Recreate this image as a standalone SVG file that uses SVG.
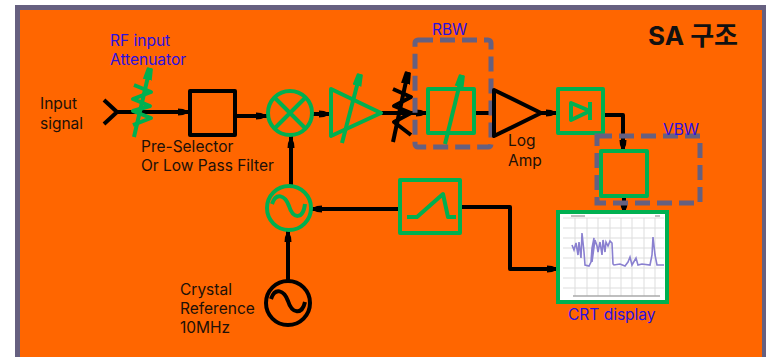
<svg xmlns="http://www.w3.org/2000/svg" width="766" height="357" viewBox="0 0 766 357">
<style>
text{font-family:Inter,"Noto Sans CJK KR","Liberation Sans",sans-serif;font-size:15.5px;fill:#201008}
.b{fill:#2a10e0}
.k{fill:none;stroke:#000;stroke-width:4;stroke-linejoin:round}
.g{fill:none;stroke:#00b050;stroke-width:4;stroke-linejoin:round}
.d{fill:none;stroke:#666080;stroke-width:5;stroke-dasharray:15 7}
</style>
<defs>
<marker id="a" markerUnits="userSpaceOnUse" markerWidth="14" markerHeight="12" refX="12" refY="6" orient="auto"><path d="M0 2.5 L5 3 L12 6 L5 9 L0 9.5Z" fill="#000"/></marker>
<marker id="ag" markerUnits="userSpaceOnUse" markerWidth="14" markerHeight="14" refX="12" refY="7" orient="auto"><path d="M0 2.5 L12 4 L12 10 L0 11.5Z" fill="#00b050"/></marker>
<marker id="ak" markerUnits="userSpaceOnUse" markerWidth="14" markerHeight="14" refX="12" refY="7" orient="auto"><path d="M0 2.5 L12 4 L12 10 L0 11.5Z" fill="#000"/></marker>
<filter id="s"><feGaussianBlur stdDeviation="0.7"/></filter>
</defs>
<rect width="766" height="357" fill="#fff"/>
<path d="M15 357V5H766V357H762V10H20V357Z" fill="#666080"/>
<rect x="20" y="10" width="742" height="347" fill="#f60"/>
<g id="connectors">
<path class="k" d="M117 112H190" marker-end="url(#a)"/>
<path class="k" d="M235 116H268" marker-end="url(#a)"/>
<path class="k" d="M312 114H331" marker-end="url(#a)"/>
<path class="k" d="M381 113H428" marker-end="url(#a)"/>
<path class="k" d="M474 113H494"/>
<path class="k" d="M541 113H558" marker-end="url(#a)"/>
<path class="k" d="M603 115H623V152" marker-end="url(#a)"/>
<path class="k" d="M624 196V214" marker-end="url(#a)"/>
<path class="k" d="M460 207H510V269H559" marker-end="url(#a)"/>
<path class="k" d="M400 209H310" marker-end="url(#a)"/>
<path class="k" d="M288 280V230" marker-end="url(#a)"/>
<path class="k" d="M291 185V136" marker-end="url(#a)"/>
</g>
<g id="input"><path class="k" d="M104 100L117 112L104 124"/><text x="40" y="109">Input</text><text x="40" y="129">signal</text></g>
<g id="attenuator">
<path class="g" d="M134 85L151 92L133 99L150 106L133 111L151 118L133 125"/>
<path class="g" d="M134 137L150 68" marker-end="url(#ag)"/>
<text class="b" x="110" y="46">RF input</text><text class="b" x="110" y="65">Attenuator</text>
</g>
<g id="preselector"><rect class="k" x="190" y="91" width="45" height="44"/><text x="141" y="152">Pre-Selector</text><text x="141" y="171">Or Low Pass Filter</text></g>
<g id="mixer"><circle class="g" cx="290" cy="113" r="22"/><path class="g" d="M274 97L306 129M306 97L274 129"/></g>
<g id="amp"><path class="g" d="M331 89L381 113L331 136Z"/><path class="g" d="M342 143L360 74" marker-end="url(#ag)"/></g>
<g id="step-attenuator">
<path class="k" d="M393 89L411 97L394 106L411 113L394 122L411 135"/>
<path class="k" d="M393 142L408 72" marker-end="url(#ak)"/>
</g>
<g id="rbw"><rect class="d" x="415" y="40" width="76" height="107" rx="3"/><rect class="g" x="428" y="89" width="46" height="44"/><path class="g" d="M445 144L462 75" marker-end="url(#ag)"/><text class="b" x="432" y="35">RBW</text></g>
<g id="log-amp"><path class="k" d="M494 90L541 113L494 136Z"/><text x="508" y="146">Log</text><text x="508" y="166">Amp</text></g>
<g id="detector"><rect class="g" x="558" y="89" width="45" height="44"/><path class="g" d="M571 103L590 111L571 120Z"/><path class="g" d="M590 102V120"/></g>
<g id="vbw"><rect class="d" x="597" y="136" width="103" height="67"/><rect class="g" x="601" y="151" width="46" height="45"/><text class="b" x="663" y="135">VBW</text></g>
<g id="sweep"><rect class="g" x="400" y="180" width="60" height="53"/><path class="g" d="M407 217H417L443 194L448 217H456"/></g>
<g id="lo"><circle class="g" cx="289" cy="208" r="22"/><path class="g" d="M272 204C276 192 285 195 289 206C293 219 303 220 305 204"/></g>
<g id="reference"><circle class="k" cx="288" cy="303" r="22"/><path class="k" d="M271 299C275 287 284 290 288 301C292 314 302 315 305 302"/><text x="180" y="295">Crystal</text><text x="180" y="314">Reference</text><text x="180" y="333">10MHz</text></g>
<g id="crt">
<rect x="558" y="212" width="109" height="90" fill="#fff" stroke="#00b050" stroke-width="4"/>
<g filter="url(#s)">
<path d="M563 218H664M563 228H664M563 238H664M563 248H664M563 258H664M563 268H664M563 278H664M563 288H664M575 218V296M587 218V296M598 218V296M610 218V296M621 218V296M632 218V296M644 218V296M655 218V296" stroke="#ddd" fill="none" stroke-width="1"/>
<path d="M572 245L574 250L576 243L578 255L579 242L581 258L582 233L584 252L585 265L589 266L591 262L592 248L594 238L592 262L595 240L597 246L598 252L600 242L602 255L603 240L605 252L606 242L608 246L610 241L612 243L613 264L614 265L620 264L625 266L628 262L630 257L632 265L636 258L638 265L642 264L650 265L652 255L653 237L655 255L657 265L664 265" fill="none" stroke="#8a80d0" stroke-width="1.6"/>
<path d="M571 216H585M655 216H660M573 296H660" stroke="#aaa" stroke-width="1.5" fill="none"/>
</g>
<text class="b" x="568" y="320">CRT display</text>
</g>
<g id="title"><text x="648" y="45" style="font-size:26px;font-weight:700;fill:#111">SA 구조</text></g>
</svg>
